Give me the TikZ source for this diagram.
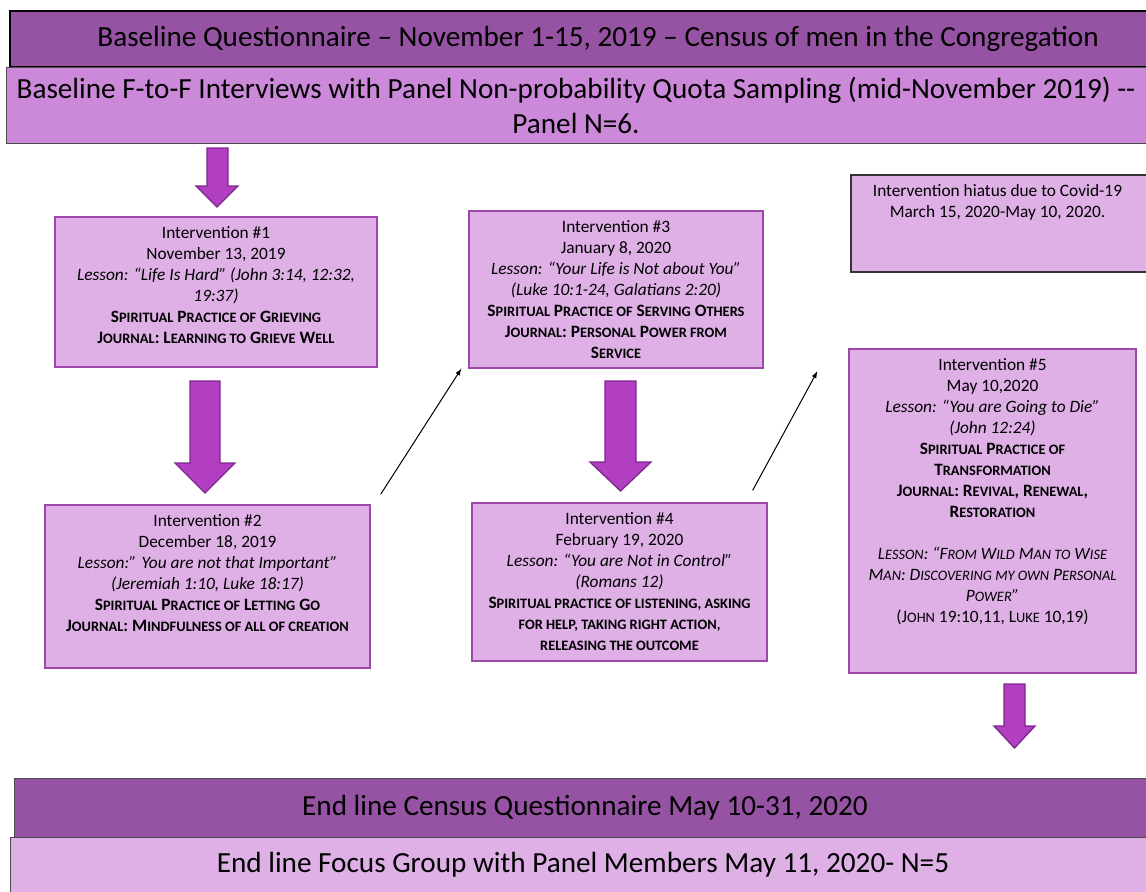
\documentclass[tikz,border=0pt]{standalone}
\usepackage{fontspec}
\setmainfont{Carlito}

\definecolor{barDark}{RGB}{151,83,163}
\definecolor{barMid}{RGB}{204,136,217}
\definecolor{boxFill}{RGB}{222,176,230}
\definecolor{boxLine}{RGB}{160,72,170}
\definecolor{arrowFill}{RGB}{178,62,194}
\definecolor{arrowLine}{RGB}{125,40,140}

% fake small caps, as Word sets them
\newcommand{\smc}[1]{{\fontsize{10.8}{15.75}\selectfont #1}}

\tikzset{every picture/.style={line width=0.75pt}}
\tikzset{
  barnode/.style={inner sep=0pt, align=center, font=\fontsize{21.9}{26}\selectfont},
  ibox/.style={draw=boxLine, fill=boxFill, line width=1pt, inner sep=0pt},
  itext/.style={anchor=north, align=center, inner sep=0pt, font=\fontsize{13}{15.75}\selectfont},
  bigarrow/.style={draw=arrowLine, fill=arrowFill, line width=1pt},
}

\begin{document}
\begin{tikzpicture}[x=0.75pt,y=0.75pt,yscale=-1,xscale=1]
\useasboundingbox (0,0) rectangle (1146,892);
\clip (0,0) rectangle (1146,892);

%Baseline bars
\node[barnode, draw=black, line width=1.5pt, fill=barDark, minimum width=882pt, minimum height=42pt] (base1) at (598,39) {Baseline Questionnaire – November 1-15, 2019 – Census of men in the Congregation};
\node[barnode, draw=black!70, fill=barMid, minimum width=855pt, minimum height=56.25pt] (base2) at (576,105.5) {Baseline F-to-F Interviews with Panel Non-probability Quota Sampling (mid-November 2019) -{}-\\Panel N=6.};

%Intervention boxes
\node[ibox, minimum width=241.5pt, minimum height=112.5pt] (b1) at (216,292) {};
\node[ibox, minimum width=243.75pt, minimum height=122.25pt] (b2) at (207.5,586.5) {};
\node[ibox, minimum width=220.5pt, minimum height=117.75pt] (b3) at (616,289.5) {};
\node[ibox, minimum width=221.25pt, minimum height=118.5pt] (b4) at (619.5,582) {};
\node[ibox, minimum width=215.25pt, minimum height=243pt] (b5) at (992.5,511) {};
\node[ibox, draw=black!80, minimum width=223pt, minimum height=72.75pt] (hiatus) at (999.5,223.5) {};

% Text Node
\node[itext] (t1) at ([yshift=7pt]b1.north) {Intervention \#1\\November 13, 2019\\
  \textit{Lesson: “Life Is Hard” (John 3:14, 12:32,}\\\textit{19:37)}\\
  \textbf{S\smc{PIRITUAL} P\smc{RACTICE OF} G\smc{RIEVING}}\\
  \textbf{J\smc{OURNAL}: L\smc{EARNING TO} G\smc{RIEVE} W\smc{ELL}}};
% Text Node
\node[itext] (t2) at ([yshift=7pt]b2.north) {Intervention \#2\\December 18, 2019\\
  \textit{Lesson:” You are not that Important”}\\\textit{(Jeremiah 1:10, Luke 18:17)}\\
  \textbf{S\smc{PIRITUAL} P\smc{RACTICE OF} L\smc{ETTING} G\smc{O}}\\
  \textbf{J\smc{OURNAL}: M\smc{INDFULNESS OF ALL OF CREATION}}};
% Text Node
\node[itext] (t3) at ([yshift=7pt]b3.north) {Intervention \#3\\January 8, 2020\\
  \textit{Lesson: “Your Life is Not about You”}\\\textit{(Luke 10:1-24, Galatians 2:20)}\\
  \textbf{S\smc{PIRITUAL} P\smc{RACTICE OF} S\smc{ERVING} O\smc{THERS}}\\
  \textbf{J\smc{OURNAL}: P\smc{ERSONAL} P\smc{OWER FROM}}\\
  \textbf{S\smc{ERVICE}}};
% Text Node
\node[itext] (t4) at ([yshift=7pt]b4.north) {Intervention \#4\\February 19, 2020\\
  \textit{Lesson: “You are Not in Control”}\\\textit{(Romans 12)}\\
  \textbf{S\smc{PIRITUAL PRACTICE OF LISTENING, ASKING}}\\
  \textbf{\smc{FOR HELP, TAKING RIGHT ACTION,}}\\
  \textbf{\smc{RELEASING THE OUTCOME}}};
% Text Node
\node[itext] (t5) at ([yshift=7pt]b5.north) {Intervention \#5\\May 10,2020\\
  \textit{Lesson: “You are Going to Die”}\\\textit{(John 12:24)}\\
  \textbf{S\smc{PIRITUAL} P\smc{RACTICE OF}}\\
  \textbf{T\smc{RANSFORMATION}}\\
  \textbf{J\smc{OURNAL}: R\smc{EVIVAL}, R\smc{ENEWAL},}\\
  \textbf{R\smc{ESTORATION}}\\[15.75pt]
  \textit{L\smc{ESSON}: “F\smc{ROM} W\smc{ILD} M\smc{AN TO} W\smc{ISE}}\\
  \textit{M\smc{AN}: D\smc{ISCOVERING MY OWN} P\smc{ERSONAL}}\\
  \textit{P\smc{OWER}”}\\
  (J\smc{OHN} 19:10,11, L\smc{UKE} 10,19)};
% Text Node
\node[itext] (th) at ([xshift=-1.5pt,yshift=7.5pt]hiatus.north) {Intervention hiatus due to Covid-19\\March 15, 2020-May 10, 2020.};

%Endline bars
\node[barnode, draw=black!70, fill=barDark, minimum width=856.5pt, minimum height=45pt] (end1) at (585,808) {End line Census Questionnaire May 10-31, 2020};
\node[barnode, draw=black!70, fill=boxFill, minimum width=859.5pt, minimum height=42pt] (end2) at (583,865) {End line Focus Group with Panel Members May 11, 2020- N=5};

%Shape: Down Arrow
\draw[bigarrow] (207,148) -- (228,148) -- (228,186) -- (238,186) -- (217,207) -- (196,186) -- (207,186) -- cycle ;
%Shape: Down Arrow
\draw[bigarrow] (190,381) -- (220,381) -- (220,463) -- (235,463) -- (205,493) -- (175,463) -- (190,463) -- cycle ;
%Shape: Down Arrow
\draw[bigarrow] (605,381) -- (636,381) -- (636,462) -- (651,462) -- (620.5,491) -- (590,462) -- (605,462) -- cycle ;
%Shape: Down Arrow
\draw[bigarrow] (1004,684) -- (1025,684) -- (1025,726) -- (1035,726) -- (1014.5,748) -- (994,726) -- (1004,726) -- cycle ;

%Straight Lines
\draw[-latex] ([xshift=7.5pt,yshift=-7.5pt]b2.north east) -- ([xshift=-5.25pt]b3.south west) ;
%Straight Lines
\draw[-latex] ([xshift=-11.25pt,yshift=-9pt]b4.north east) -- ([xshift=-23.25pt,yshift=17.25pt]b5.north west) ;

\end{tikzpicture}
\end{document}
